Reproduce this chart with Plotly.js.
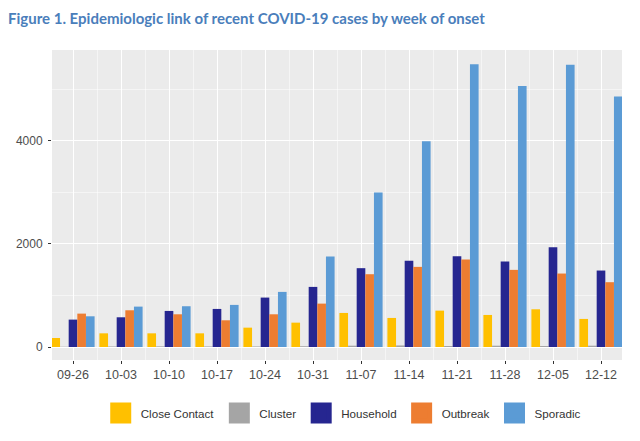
<!DOCTYPE html>
<html><head><meta charset="utf-8">
<script src="https://cdn.plot.ly/plotly-3.0.1.min.js"></script>
<style>html,body{margin:0;padding:0;background:#fff}#chart{width:640px;height:441px}</style>
</head><body><div id="chart"></div>
<script>
const weeks = ["09-26","10-03","10-10","10-17","10-24","10-31","11-07","11-14","11-21","11-28","12-05","12-12"];
const closeContact = [175, 265, 265, 265, 375, 472, 660, 563, 705, 621, 731, 544];
const cluster      = [5, 10, 12, 10, 10, 15, 25, 30, 20, 25, 20, 25];
const household    = [531, 576, 699, 738, 958, 1165, 1528, 1670, 1760, 1657, 1935, 1482];
const outbreak     = [647, 712, 634, 518, 634, 841, 1411, 1553, 1696, 1495, 1424, 1256];
const sporadic     = [595, 783, 790, 816, 1068, 1754, 2997, 3987, 5482, 5061, 5469, 4854];
const seriesNames  = ["Close Contact","Cluster","Household","Outbreak","Sporadic"];
const seriesColors = ["#FFC000","#A5A5A5","#262690","#ED7D31","#5B9BD5"];
const seriesData   = [closeContact, cluster, household, outbreak, sporadic];

const xIdx = weeks.map((w,i)=>i);
const traces = [];
seriesData.forEach((vals,k)=>{
  traces.push({type:'bar', x:xIdx, y:vals, name:seriesNames[k],
    marker:{color:seriesColors[k]}, showlegend:false, hoverinfo:'y'});
});
seriesData.forEach((vals,k)=>{
  traces.push({type:'scatter', mode:'markers', x:[null], y:[null], name:seriesNames[k],
    marker:{symbol:'square', size:16, color:seriesColors[k], line:{color:seriesColors[k], width:5}},
    showlegend:true});
});

const layout = {
  width:640, height:441,
  margin:{l:52, r:18, t:50, b:81},
  paper_bgcolor:'#ffffff', plot_bgcolor:'#EBEBEB',
  barmode:'group', bargap:0.1, bargroupgap:0,
  title:{text:'<b>Figure 1. Epidemiologic link of recent COVID-19 cases by week of onset</b>',
    x:8/640, xanchor:'left', xref:'container', y:1-19/441, yanchor:'middle', yref:'container',
    font:{family:'Lato, "Open Sans", sans-serif', size:15, color:'#4A7EBB'}},
  xaxis:{type:'linear', range:[-0.4375, 11.4375], tickvals:xIdx, ticktext:weeks,
    showgrid:true, gridcolor:'#ffffff', gridwidth:1, zeroline:false,
    ticks:'outside', ticklen:3, tickcolor:'#333333', tickwidth:1,
    minor:{dtick:0.5, tick0:0, showgrid:true, gridcolor:'#ffffff', gridwidth:0.5, ticks:''},
    tickfont:{family:'"Liberation Sans", Arial, sans-serif', size:12.5, color:'#4D4D4D'},
    fixedrange:true, showline:false},
  yaxis:{range:[-252, 5757], tickvals:[0,2000,4000], ticktext:['0','2000','4000'],
    showgrid:true, gridcolor:'#ffffff', gridwidth:1, zeroline:false,
    ticks:'outside', ticklen:3, tickcolor:'#333333', tickwidth:1, ticklabelstandoff:3,
    minor:{tickvals:[1000,3000,5000], showgrid:true, gridcolor:'#ffffff', gridwidth:0.5, ticks:''},
    tickfont:{family:'"Liberation Sans", Arial, sans-serif', size:12, color:'#4D4D4D'},
    fixedrange:true, showline:false},
  legend:{orientation:'h', x:327/640, xanchor:'center', y:-53/310, yanchor:'middle',
    font:{family:'"Liberation Sans", Arial, sans-serif', size:11.6, color:'#333333'},
    bgcolor:'rgba(0,0,0,0)', traceorder:'normal'},
  showlegend:true
};
Plotly.newPlot('chart', traces, layout, {displayModeBar:false, staticPlot:true});
</script></body></html>
